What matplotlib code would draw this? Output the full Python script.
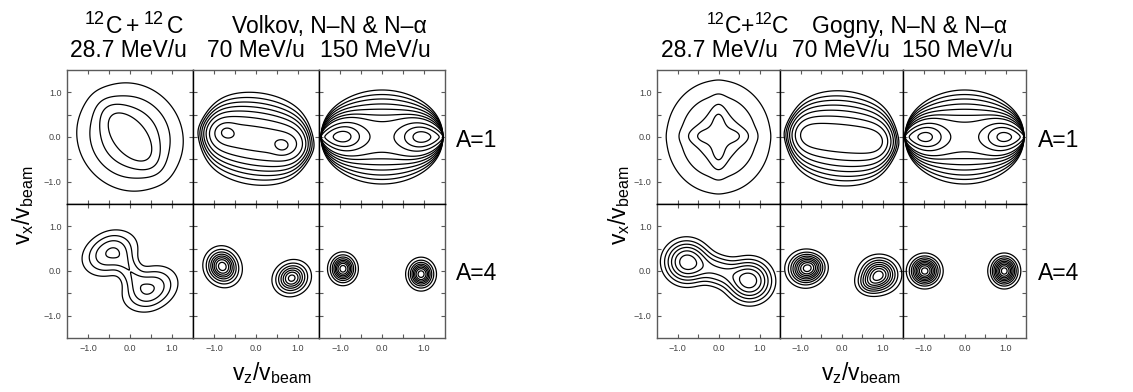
import numpy as np
import matplotlib
matplotlib.use("Agg")
import matplotlib.pyplot as plt

plt.rcParams['font.family'] = ['Liberation Sans', 'DejaVu Sans']
plt.rcParams['mathtext.fontset'] = 'custom'
plt.rcParams['mathtext.rm'] = 'Liberation Sans'
plt.rcParams['mathtext.it'] = 'Liberation Sans:italic'
plt.rcParams['mathtext.sf'] = 'Liberation Sans'

# ---------------- data ----------------
energies = ['28.7 MeV/u', '70 MeV/u', '150 MeV/u']
forces = ['Volkov, N\u2013N & N\u2013\u03b1', 'Gogny, N\u2013N & N\u2013\u03b1']
system_parts = ['12', 'C', '+', '12', 'C']
mass_labels = ['A=1', 'A=4']
tick_major = [-1.0, 0.0, 1.0]
tick_minor = [-0.5, 0.5]
tick_labels = ['\u22121.0', '0.0', '1.0']
axis_range = [-1.5, 1.5]

# density blobs:
# (vz0, vx0, half_length, sigma_z, sigma_x, angle_deg, amplitude, power)
# optional lens-shaped envelope: (vz0, vx0, half_width_z, sigma_x, angle_deg)
volkov_a1_e287_blobs = [(0.0, 0.0, 0.0, 0.52, 0.24, -48, 0.55, 1.2),
                        (0.0, 0.0, 0.0, 0.70, 0.64, -30, 0.6, 1.3)]
volkov_a1_e287_lens = None
volkov_a1_e287_levels = [0.07, 0.2, 0.36, 0.6]

volkov_a1_e70_blobs = [(0.0, -0.04, 0.0, 0.84, 100.0, -8, 1.0, 3.64),
                       (-0.70, 0.12, 0.0, 0.14, 0.13, 0, 0.25, 1.0),
                       (0.62, -0.22, 0.0, 0.14, 0.13, 0, 0.25, 1.0)]
volkov_a1_e70_lens = (0.0, -0.04, 1.5, 0.41, -8)
volkov_a1_e70_levels = [0.035, 0.07, 0.12, 0.19, 0.29, 0.44, 0.66, 0.9]

volkov_a1_e150_blobs = [(0.0, 0.0, 0.0, 100.0, 100.0, 0, 1.0, 1.0),
                        (-0.95, 0.02, 0.0, 0.35, 0.30, 0, 1.5, 1.0),
                        (0.95, 0.00, 0.0, 0.35, 0.30, 0, 1.5, 1.0)]
volkov_a1_e150_lens = (0.0, 0.0, 1.45, 0.45, 0)
volkov_a1_e150_levels = [0.026, 0.043, 0.067, 0.104, 0.155, 0.226, 0.311, 0.5, 0.7, 0.9]

volkov_a4_e287_blobs = [(-0.48, 0.40, 0.0, 0.34, 0.24, 22, 1.0, 1.0),
                        (0.48, -0.40, 0.0, 0.34, 0.24, 22, 1.0, 1.0),
                        (0.0, 0.0, 0.0, 0.36, 0.15, -55, 0.5, 1.0)]
volkov_a4_e287_lens = None
volkov_a4_e287_levels = [0.12, 0.30, 0.55, 0.9]

volkov_a4_e70_blobs = [(-0.83, 0.13, 0.0, 0.19, 0.19, 0, 1.0, 1.0),
                       (-0.70, 0.00, 0.0, 0.19, 0.19, 0, 0.35, 1.0),
                       (0.85, -0.16, 0.0, 0.21, 0.18, 20, 1.0, 1.0)]
volkov_a4_e70_lens = None
volkov_a4_e70_levels = [0.06, 0.15, 0.26, 0.38, 0.50, 0.62, 0.75, 0.90]

volkov_a4_e150_blobs = [(-0.93, 0.05, 0.0, 0.155, 0.16, 0, 1.0, 1.0),
                        (0.93, -0.07, 0.0, 0.155, 0.16, 0, 1.0, 1.0)]
volkov_a4_e150_lens = None
volkov_a4_e150_levels = [0.06, 0.15, 0.26, 0.38, 0.50, 0.62, 0.75, 0.90]

gogny_a1_e287_blobs = [(0.0, 0.02, 0.0, 0.45, 0.13, 0, 0.6, 1.15),
                       (0.0, 0.0, 0.0, 0.13, 0.45, 0, 0.6, 1.15),
                       (0.0, 0.0, 0.0, 0.70, 0.70, 0, 0.8, 1.3)]
gogny_a1_e287_lens = None
gogny_a1_e287_levels = [0.06, 0.18, 0.33, 0.5]

gogny_a1_e70_blobs = [(0.0, -0.03, 0.0, 0.84, 100.0, -5, 1.0, 3.64)]
gogny_a1_e70_lens = (0.0, -0.03, 1.5, 0.41, -5)
gogny_a1_e70_levels = [0.035, 0.07, 0.12, 0.2, 0.32, 0.5, 0.75]

gogny_a1_e150_blobs = [(0.0, 0.0, 0.0, 100.0, 100.0, 0, 1.0, 1.0),
                       (-0.96, 0.0, 0.0, 0.33, 0.28, 0, 1.5, 1.0),
                       (0.97, 0.0, 0.0, 0.33, 0.28, 0, 1.5, 1.0)]
gogny_a1_e150_lens = (0.0, 0.0, 1.45, 0.45, 0)
gogny_a1_e150_levels = [0.026, 0.043, 0.067, 0.104, 0.155, 0.226, 0.311, 0.5, 0.7, 0.92]

gogny_a4_e287_blobs = [(-0.78, 0.20, 0.0, 0.28, 0.25, 0, 1.0, 1.0),
                       (0.76, -0.22, 0.0, 0.28, 0.25, 0, 1.0, 1.0),
                       (0.0, 0.0, 0.0, 0.45, 0.19, -15, 0.45, 1.0)]
gogny_a4_e287_lens = None
gogny_a4_e287_levels = [0.07, 0.15, 0.26, 0.4, 0.58, 0.8]

gogny_a4_e70_blobs = [(-0.88, 0.05, 0.0, 0.22, 0.19, 0, 1.0, 1.0),
                      (-0.70, 0.10, 0.0, 0.18, 0.15, 0, 0.3, 1.0),
                      (0.92, -0.08, 0.0, 0.24, 0.20, 0, 1.0, 1.0),
                      (0.68, -0.28, 0.0, 0.18, 0.14, 0, 0.3, 1.0)]
gogny_a4_e70_lens = None
gogny_a4_e70_levels = [0.06, 0.14, 0.23, 0.33, 0.44, 0.55, 0.67, 0.79, 0.92]

gogny_a4_e150_blobs = [(-0.97, 0.0, 0.0, 0.19, 0.17, 0, 1.0, 1.0),
                       (0.97, 0.0, 0.0, 0.17, 0.17, 0, 1.0, 1.0)]
gogny_a4_e150_lens = None
gogny_a4_e150_levels = [0.06, 0.14, 0.23, 0.33, 0.44, 0.55, 0.67, 0.79, 0.92]

panels = {
    (0, 0, 0): (volkov_a1_e287_blobs, volkov_a1_e287_lens, volkov_a1_e287_levels),
    (0, 0, 1): (volkov_a1_e70_blobs, volkov_a1_e70_lens, volkov_a1_e70_levels),
    (0, 0, 2): (volkov_a1_e150_blobs, volkov_a1_e150_lens, volkov_a1_e150_levels),
    (0, 1, 0): (volkov_a4_e287_blobs, volkov_a4_e287_lens, volkov_a4_e287_levels),
    (0, 1, 1): (volkov_a4_e70_blobs, volkov_a4_e70_lens, volkov_a4_e70_levels),
    (0, 1, 2): (volkov_a4_e150_blobs, volkov_a4_e150_lens, volkov_a4_e150_levels),
    (1, 0, 0): (gogny_a1_e287_blobs, gogny_a1_e287_lens, gogny_a1_e287_levels),
    (1, 0, 1): (gogny_a1_e70_blobs, gogny_a1_e70_lens, gogny_a1_e70_levels),
    (1, 0, 2): (gogny_a1_e150_blobs, gogny_a1_e150_lens, gogny_a1_e150_levels),
    (1, 1, 0): (gogny_a4_e287_blobs, gogny_a4_e287_lens, gogny_a4_e287_levels),
    (1, 1, 1): (gogny_a4_e70_blobs, gogny_a4_e70_lens, gogny_a4_e70_levels),
    (1, 1, 2): (gogny_a4_e150_blobs, gogny_a4_e150_lens, gogny_a4_e150_levels),
}

# ---------------- layout ----------------
W, H = 1133, 392
fig = plt.figure(figsize=(W / 100, H / 100), dpi=100)

group_x0 = [67, 657]
group_w = [126, 123]
row_top = 70
row_h = 134

vz = np.linspace(-1.5, 1.5, 401)
VZ, VX = np.meshgrid(vz, vz)


def rotated(z0, x0, ang):
    t = np.deg2rad(ang)
    u = (VZ - z0) * np.cos(t) + (VX - x0) * np.sin(t)
    v = -(VZ - z0) * np.sin(t) + (VX - x0) * np.cos(t)
    return u, v


def density(blobs, lens):
    Z = np.zeros_like(VZ)
    for (z0, x0, a, sz, sx, ang, amp, p) in blobs:
        u, v = rotated(z0, x0, ang)
        du = np.maximum(np.abs(u) - a, 0.0)
        q = 0.5 * ((du / sz) ** 2 + (v / sx) ** 2)
        Z += amp * np.exp(-q ** p)
    if lens is not None:
        z0, x0, half_w, sx, ang = lens
        u, v = rotated(z0, x0, ang)
        w = np.clip(1.0 - (u / half_w) ** 2, 1e-6, None)
        Z *= np.exp(-0.5 * v ** 2 / (sx ** 2 * w)) * (np.abs(u) < half_w)
    return Z / Z.max()


def fx(px):
    return px / W


def fy(py):
    return 1 - py / H


frame_col = '#5a5a5a'
for g in range(2):
    for r in range(2):
        for c in range(3):
            left = group_x0[g] + c * group_w[g]
            top = row_top + r * row_h
            ax = fig.add_axes([fx(left), fy(top + row_h), group_w[g] / W, row_h / H])
            blobs, lens, levels = panels[(g, r, c)]
            Z = density(blobs, lens)
            ax.contour(VZ, VX, Z, levels=sorted(levels), colors='black', linewidths=0.9)
            ax.set_xlim(axis_range)
            ax.set_ylim(axis_range)
            ax.set_xticks(tick_major)
            ax.set_xticks(tick_minor, minor=True)
            ax.set_yticks(tick_major)
            ax.set_yticks(tick_minor, minor=True)
            ax.set_xticklabels(tick_labels if r == 1 else [])
            ax.set_yticklabels(tick_labels if c == 0 else [])
            ax.tick_params(which='both', direction='in', top=True, right=True,
                           length=3, width=0.8, color=frame_col,
                           labelsize=6.5, labelcolor='#444444', pad=4)
            for name, sp in ax.spines.items():
                sp.set_linewidth(1.0)
                sp.set_color('black')
            if c == 0:
                ax.spines['left'].set_color(frame_col)
            if c == 2:
                ax.spines['right'].set_color(frame_col)
            if r == 0:
                ax.spines['top'].set_color(frame_col)
            if r == 1:
                ax.spines['bottom'].set_color(frame_col)

big = 16.5
sup = 13.0
renderer = fig.canvas.get_renderer()

# left system label: letters spread as in the picture
left_sys_x = [85, 106, 126, 144, 167]
for k, part in enumerate(system_parts):
    is_sup = part.isdigit()
    fig.text(fx(left_sys_x[k]), fy(24 if is_sup else 33), part, ha='left', va='baseline',
             fontsize=sup if is_sup else big)

# right system label: natural spacing
xcur = 707
for part in system_parts:
    is_sup = part.isdigit()
    t = fig.text(fx(xcur), fy(24 if is_sup else 33), part, ha='left', va='baseline',
                 fontsize=(sup - 1.5) if is_sup else big)
    xcur = t.get_window_extent(renderer).x1

title1_force_x = [329, 910]
energy_x = [[128, 256, 375], [719, 841, 957]]
alabel_x = [456, 1038]
ylabel_x = [23, 619]
xlabel_x = [272, 861]
for g in range(2):
    fig.text(fx(title1_force_x[g]), fy(33), forces[g], ha='center', va='baseline', fontsize=big)
    for c in range(3):
        fig.text(fx(energy_x[g][c]), fy(57), energies[c], ha='center', va='baseline', fontsize=big)
    fig.text(fx(alabel_x[g]), fy(147), mass_labels[0], ha='left', va='baseline', fontsize=big)
    fig.text(fx(alabel_x[g]), fy(280), mass_labels[1], ha='left', va='baseline', fontsize=big)
    fig.text(fx(ylabel_x[g]), fy(205), r'v$_\mathrm{x}$/v$_\mathrm{beam}$', rotation=90,
             ha='center', va='center', fontsize=big)
    fig.text(fx(xlabel_x[g]), fy(373), r'v$_\mathrm{z}$/v$_\mathrm{beam}$',
             ha='center', va='center', fontsize=big)

fig.savefig('out.png', dpi=100)
